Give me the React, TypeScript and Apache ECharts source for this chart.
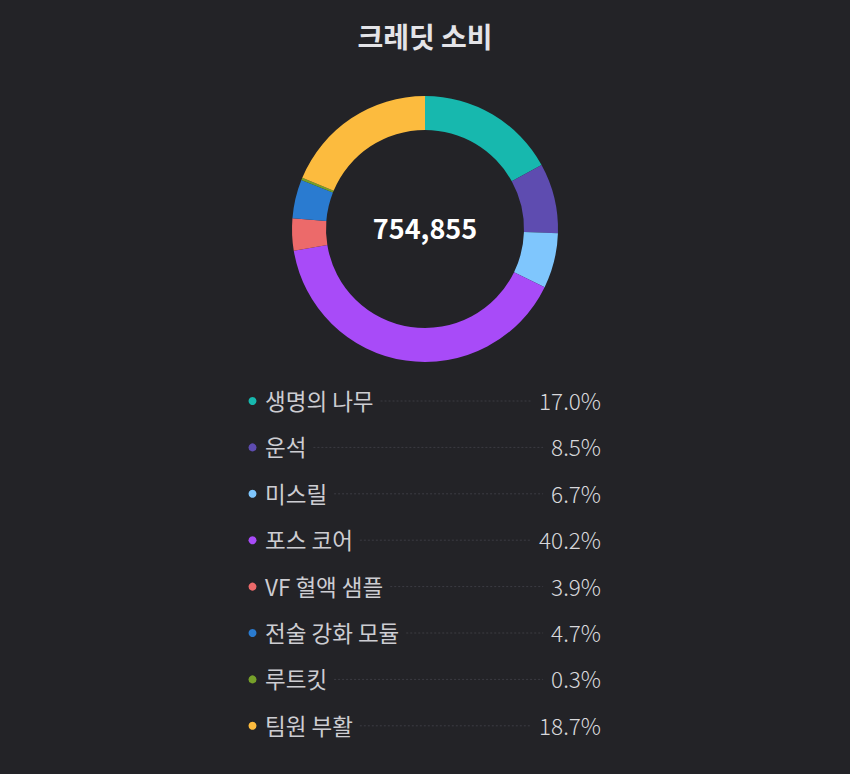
import React, { useEffect, useRef } from "react";
import * as echarts from "echarts";

const TITLE = "크레딧 소비";
const TOTAL_LABEL = "754,855";
const categories = ["생명의 나무", "운석", "미스릴", "포스 코어", "VF 혈액 샘플", "전술 강화 모듈", "루트킷", "팀원 부활"];
const shares = [17.0, 8.5, 6.7, 40.2, 3.9, 4.7, 0.3, 18.7];
const colors = ["#17b8ae", "#5e4cb0", "#7fc6fd", "#a84bf8", "#ec6a6a", "#2a7bd0", "#76a02a", "#fcbb3e"];

const FONT = "'Noto Sans CJK KR', 'Noto Sans', sans-serif";
const BG = "#232327";

function measure(text: string, font: string): number {
  const c = document.createElement("canvas");
  const ctx = c.getContext("2d");
  if (!ctx) return text.length * 20;
  ctx.font = font;
  return ctx.measureText(text).width;
}

export default function App() {
  const ref = useRef<HTMLDivElement>(null);
  useEffect(() => {
    if (!ref.current) return;
    const chart = echarts.init(ref.current, undefined, { renderer: "svg" });
    const rowTop = 400;
    const rowGap = 46.4;
    const nameX = 265;
    const pctRight = 601;
    const nameFont = `400 22.5px ${FONT}`;
    const pctFont = `300 22.5px ${FONT}`;
    const graphics: any[] = [];
    categories.forEach((name, i) => {
      const y = rowTop + i * rowGap;
      const pct = shares[i].toFixed(1) + "%";
      const nw = measure(name, nameFont);
      const pw = measure(pct, pctFont);
      graphics.push({
        type: "circle",
        shape: { cx: 252.5, cy: y + 1, r: 4 },
        style: { fill: colors[i] },
        silent: true,
      });
      graphics.push({
        type: "text",
        x: nameX,
        y,
        style: {
          text: name,
          fill: "#cdcdd2",
          font: nameFont,
          align: "left",
          verticalAlign: "middle",
        },
      });
      graphics.push({
        type: "line",
        shape: { x1: nameX + nw + 7, y1: y + 1, x2: pctRight - pw - 8, y2: y + 1 },
        style: { stroke: "#3c3c43", lineWidth: 1, lineDash: [2, 2] },
        silent: true,
      });
      graphics.push({
        type: "text",
        x: pctRight,
        y,
        style: {
          text: pct,
          fill: "#d8d8dc",
          font: pctFont,
          align: "right",
          verticalAlign: "middle",
        },
      });
    });
    graphics.push({
      type: "text",
      x: 425,
      y: 227,
      style: {
        text: TOTAL_LABEL,
        fill: "#ffffff",
        font: `700 27px ${FONT}`,
        align: "center",
        verticalAlign: "middle",
      },
    });

    chart.setOption({
      animation: false,
      backgroundColor: BG,
      title: {
        text: TITLE,
        left: "center",
        top: 17,
        textStyle: { color: "#e4e4e8", fontSize: 28, fontWeight: 700, fontFamily: FONT },
      },
      graphic: graphics,
      series: [
        {
          type: "pie",
          center: [425, 229],
          radius: [99, 133],
          startAngle: 90,
          clockwise: true,
          label: { show: false },
          labelLine: { show: false },
          emphasis: { disabled: true },
          itemStyle: { borderWidth: 0 },
          data: categories.map((name, i) => ({
            name,
            value: shares[i],
            itemStyle: { color: colors[i] },
          })),
        },
      ],
    });
    return () => chart.dispose();
  }, []);
  return <div ref={ref} style={{ width: 850, height: 774, position: "fixed", left: 0, top: 0 }} />;
}
